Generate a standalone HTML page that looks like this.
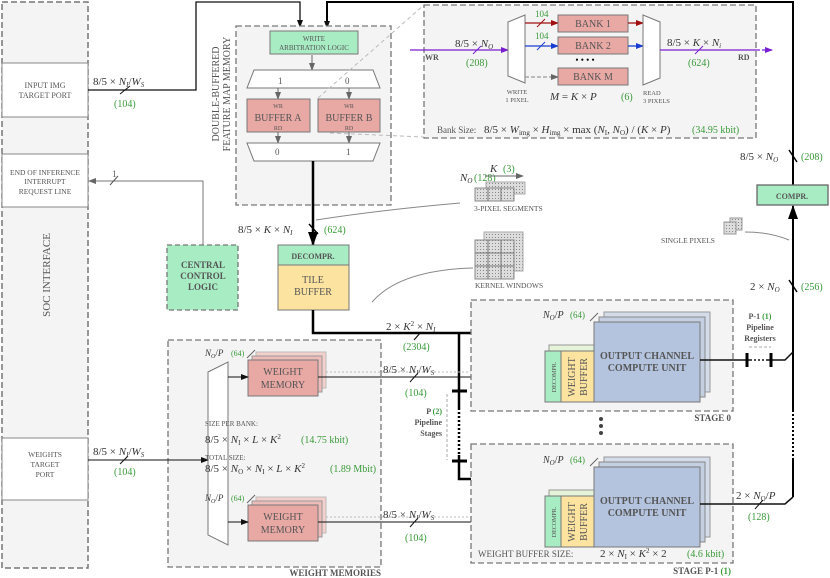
<!DOCTYPE html>
<html><head><meta charset="utf-8"><style>
body{margin:0;background:#fff}
svg{display:block;font-family:"Liberation Serif",serif}
.g{fill:#3a9a3a}
.t{fill:#555}
</style></head><body>
<svg width="830" height="578" viewBox="0 0 830 578" xmlns="http://www.w3.org/2000/svg">
<defs>
<marker id="a" markerWidth="8" markerHeight="8" refX="7" refY="4" orient="auto" markerUnits="userSpaceOnUse"><path d="M0,1 L8,4 L0,7z" fill="#111"/></marker>
<marker id="ag" markerWidth="8" markerHeight="8" refX="7" refY="4" orient="auto" markerUnits="userSpaceOnUse"><path d="M0,1 L8,4 L0,7z" fill="#666"/></marker>
<marker id="ab" markerWidth="14" markerHeight="12" refX="13" refY="6" orient="auto" markerUnits="userSpaceOnUse"><path d="M0,1 L14,6 L0,11z" fill="#000"/></marker>
<marker id="ap" markerWidth="8" markerHeight="8" refX="7" refY="4" orient="auto" markerUnits="userSpaceOnUse"><path d="M0,1 L8,4 L0,7z" fill="#7a1fd0"/></marker>
<marker id="ar" markerWidth="8" markerHeight="8" refX="7" refY="4" orient="auto" markerUnits="userSpaceOnUse"><path d="M0,1 L8,4 L0,7z" fill="#a01010"/></marker>
<marker id="abl" markerWidth="8" markerHeight="8" refX="7" refY="4" orient="auto" markerUnits="userSpaceOnUse"><path d="M0,1 L8,4 L0,7z" fill="#1a3fd0"/></marker>
<pattern id="px" width="3" height="3" patternUnits="userSpaceOnUse"><rect width="3" height="3" fill="#ddd"/><rect width="1" height="1" fill="#888"/></pattern>
</defs>

<!-- SOC interface -->
<rect x="2" y="2" width="86" height="566" fill="#f4f4f4" stroke="#777" stroke-width="1.5" stroke-dasharray="6,3"/>
<rect x="2" y="63" width="86" height="54" fill="#fff" stroke="#888"/>
<text x="45" y="88" font-size="8" text-anchor="middle" class="t">INPUT IMG</text>
<text x="45" y="98" font-size="8" text-anchor="middle" class="t">TARGET PORT</text>
<rect x="2" y="154" width="86" height="53" fill="#fff" stroke="#888"/>
<text x="45" y="175" font-size="7.5" text-anchor="middle" class="t">END OF INFERENCE</text>
<text x="45" y="184" font-size="7.5" text-anchor="middle" class="t">INTERRUPT</text>
<text x="45" y="194" font-size="7.5" text-anchor="middle" class="t">REQUEST LINE</text>
<rect x="2" y="438" width="86" height="62" fill="#fff" stroke="#888"/>
<text x="45" y="457" font-size="7.5" text-anchor="middle" class="t">WEIGHTS</text>
<text x="45" y="467" font-size="7.5" text-anchor="middle" class="t">TARGET</text>
<text x="45" y="477" font-size="7.5" text-anchor="middle" class="t">PORT</text>
<text transform="translate(50,275) rotate(-90)" font-size="11" text-anchor="middle" class="t">SOC INTERFACE</text>

<!-- input line -->
<polyline points="88,90 196,90 196,2 300,2 300,27" fill="none" stroke="#111" stroke-width="1.3" marker-end="url(#a)"/>
<line x1="120" y1="94" x2="130" y2="86" stroke="#111"/>
<text x="93" y="85" font-size="11" fill="#333">8/5 × <tspan font-style="italic">N<tspan font-size="7" dy="2">I</tspan></tspan><tspan dy="-2">/</tspan><tspan font-style="italic">W<tspan font-size="7" dy="2">S</tspan></tspan></text>
<text x="114" y="107" font-size="10" class="g">(104)</text>

<!-- top thick line -->
<polyline points="327,27 327,2 793,2 793,185" fill="none" stroke="#000" stroke-width="2" />
<line x1="327" y1="5" x2="327" y2="28" stroke="#000" stroke-width="2" marker-end="url(#a)"/>

<!-- Feature map memory -->
<rect x="236" y="26" width="155" height="179" fill="#f4f4f4" stroke="#777" stroke-width="1.3" stroke-dasharray="6,3"/>
<text transform="translate(219,94) rotate(-90)" font-size="10" text-anchor="middle" class="t">DOUBLE-BUFFERED</text>
<text transform="translate(230,94) rotate(-90)" font-size="10" text-anchor="middle" class="t">FEATURE MAP MEMORY</text>
<rect x="270" y="31" width="88" height="23" fill="#a8ecc4" stroke="#777"/>
<text x="314" y="41" font-size="7" text-anchor="middle" class="t">WRITE</text>
<text x="314" y="50" font-size="7" text-anchor="middle" class="t">ARBITRATION LOGIC</text>
<line x1="312" y1="55" x2="312" y2="70" stroke="#666" marker-end="url(#ag)"/>
<polygon points="254,70 373,70 380,88 247,88" fill="#fff" stroke="#777"/>
<text x="278" y="84" font-size="9" class="t">1</text><text x="345" y="84" font-size="9" class="t">0</text>
<line x1="278" y1="88" x2="278" y2="99" stroke="#666" marker-end="url(#ag)"/>
<line x1="349" y1="88" x2="349" y2="99" stroke="#666" marker-end="url(#ag)"/>
<rect x="247" y="99" width="63" height="33" fill="#e8a8a4" stroke="#777"/>
<rect x="318" y="99" width="62" height="33" fill="#e8a8a4" stroke="#777"/>
<text x="278" y="108" font-size="6" text-anchor="middle" class="t">WR</text>
<text x="278" y="121" font-size="10" text-anchor="middle" class="t">BUFFER A</text>
<text x="278" y="130" font-size="6" text-anchor="middle" class="t">RD</text>
<text x="349" y="108" font-size="6" text-anchor="middle" class="t">WR</text>
<text x="349" y="121" font-size="10" text-anchor="middle" class="t">BUFFER B</text>
<text x="349" y="130" font-size="6" text-anchor="middle" class="t">RD</text>
<line x1="278" y1="132" x2="278" y2="143" stroke="#666" marker-end="url(#ag)"/>
<line x1="349" y1="132" x2="349" y2="143" stroke="#666" marker-end="url(#ag)"/>
<polygon points="247,143 380,143 373,161 254,161" fill="#fff" stroke="#777"/>
<text x="275" y="155" font-size="9" class="t">0</text><text x="346" y="155" font-size="9" class="t">1</text>
<line x1="318" y1="98" x2="424" y2="5" stroke="#bbb" stroke-dasharray="4,3"/>
<line x1="330" y1="133" x2="424" y2="137" stroke="#bbb" stroke-dasharray="4,3"/>

<!-- thick down to decompr -->
<line x1="313" y1="161" x2="313" y2="245" stroke="#000" stroke-width="2.5" marker-end="url(#ab)"/>
<line x1="309" y1="224" x2="318" y2="234" stroke="#000" stroke-width="1.5"/>
<text x="238" y="233" font-size="11" fill="#333">8/5 × <tspan font-style="italic">K</tspan> × <tspan font-style="italic">N<tspan font-size="7" dy="2">I</tspan></tspan></text>
<text x="324" y="233" font-size="10" class="g">(624)</text>
<path d="M316,220 Q380,210 460,203" fill="none" stroke="#888"/>

<rect x="278" y="245" width="71" height="20" fill="#a8ecc4" stroke="#777"/>
<text x="313" y="259" font-size="8" font-weight="bold" text-anchor="middle" class="t">DECOMPR.</text>
<rect x="278" y="265" width="71" height="45" fill="#fce3a0" stroke="#777"/>
<text x="313" y="283" font-size="10" text-anchor="middle" class="t">TILE</text>
<text x="313" y="295" font-size="10" text-anchor="middle" class="t">BUFFER</text>

<!-- central control -->
<rect x="167" y="245" width="71" height="65" fill="#a8ecc4" stroke="#777" stroke-width="1.3" stroke-dasharray="5,3"/>
<text x="203" y="268" font-size="9" font-weight="bold" text-anchor="middle" class="t">CENTRAL</text>
<text x="203" y="279" font-size="9" font-weight="bold" text-anchor="middle" class="t">CONTROL</text>
<text x="203" y="290" font-size="9" font-weight="bold" text-anchor="middle" class="t">LOGIC</text>
<polyline points="203,245 203,181 89,181" fill="none" stroke="#777" marker-end="url(#ag)"/>
<line x1="110" y1="185" x2="118" y2="176" stroke="#555"/>
<text x="112" y="177" font-size="9" class="t">1</text>

<!-- bank inset -->
<rect x="424" y="5" width="332" height="133" fill="#f4f4f4" stroke="#777" stroke-width="1.3" stroke-dasharray="6,3"/>
<line x1="410" y1="50" x2="508" y2="50" stroke="#7a1fd0" stroke-width="1.3" marker-end="url(#ap)"/>
<text x="425" y="60" font-size="8" font-weight="bold" class="t">WR</text>
<text x="455" y="47" font-size="11" fill="#333">8/5 × <tspan font-style="italic">N<tspan font-size="7" dy="2">O</tspan></tspan></text>
<line x1="473" y1="54" x2="481" y2="46" stroke="#7a1fd0"/>
<text x="466" y="66" font-size="10" class="g">(208)</text>
<polygon points="508,22 525,15 525,83 508,76" fill="#fff" stroke="#777"/>
<text x="517" y="94" font-size="6.5" text-anchor="middle" class="t">WRITE</text>
<text x="517" y="102" font-size="6.5" text-anchor="middle" class="t">1 PIXEL</text>
<line x1="525" y1="23" x2="558" y2="23" stroke="#a01010" stroke-width="1.3" marker-end="url(#ar)"/>
<line x1="537" y1="27" x2="545" y2="19" stroke="#a01010"/>
<text x="535" y="17" font-size="9" class="g">104</text>
<line x1="525" y1="46" x2="558" y2="46" stroke="#1a3fd0" stroke-width="1.3" marker-end="url(#abl)"/>
<line x1="537" y1="50" x2="545" y2="42" stroke="#1a3fd0"/>
<text x="535" y="39" font-size="9" class="g">104</text>
<line x1="525" y1="77" x2="558" y2="77" stroke="#999" stroke-width="1.3" stroke-dasharray="4,2" marker-end="url(#ag)"/>
<g font-size="10" class="t">
<rect x="558" y="15" width="70" height="17" fill="#e8a8a4" stroke="#777"/><text x="593" y="27" text-anchor="middle">BANK 1</text>
<rect x="558" y="37" width="70" height="17" fill="#e8a8a4" stroke="#777"/><text x="593" y="49" text-anchor="middle">BANK 2</text>
<rect x="558" y="68" width="70" height="17" fill="#e8a8a4" stroke="#777"/><text x="593" y="80" text-anchor="middle">BANK M</text>
</g>
<text x="585" y="63" font-size="9" text-anchor="middle">• • • •</text>
<text x="550" y="100" font-size="11" fill="#333" font-style="italic">M <tspan font-style="normal">=</tspan> K <tspan font-style="normal">×</tspan> P</text>
<text x="621" y="100" font-size="10" class="g">(6)</text>
<line x1="628" y1="23" x2="643" y2="23" stroke="#a01010" stroke-width="1.3" marker-end="url(#ar)"/>
<line x1="628" y1="46" x2="643" y2="46" stroke="#1a3fd0" stroke-width="1.3" marker-end="url(#abl)"/>
<polygon points="643,15 660,22 660,78 643,85" fill="#fff" stroke="#777"/>
<text x="643" y="95" font-size="6.5" class="t">READ</text>
<text x="643" y="103" font-size="6.5" class="t">3 PIXELS</text>
<line x1="660" y1="50" x2="756" y2="50" stroke="#7a1fd0" stroke-width="1.3"/>
<line x1="756" y1="50" x2="772" y2="50" stroke="#7a1fd0" stroke-width="1.3" stroke-dasharray="4,2" marker-end="url(#ap)"/>
<text x="667" y="46" font-size="11" fill="#333">8/5 × <tspan font-style="italic">K</tspan> × <tspan font-style="italic">N<tspan font-size="7" dy="2">i</tspan></tspan></text>
<line x1="695" y1="54" x2="703" y2="46" stroke="#7a1fd0"/>
<text x="688" y="66" font-size="10" class="g">(624)</text>
<text x="738" y="60" font-size="8" font-weight="bold" class="t">RD</text>
<text x="437" y="133" font-size="9" class="t">Bank Size:</text>
<text x="484" y="133" font-size="11" fill="#333">8/5 × <tspan font-style="italic">W</tspan><tspan font-size="7" dy="2">img</tspan><tspan dy="-2"> × </tspan><tspan font-style="italic">H</tspan><tspan font-size="7" dy="2">img</tspan><tspan dy="-2"> × max (</tspan><tspan font-style="italic">N</tspan><tspan font-size="7" dy="2">I</tspan><tspan dy="-2">, </tspan><tspan font-style="italic">N</tspan><tspan font-size="7" dy="2">O</tspan><tspan dy="-2">) / (</tspan><tspan font-style="italic">K</tspan> × <tspan font-style="italic">P</tspan>)</text>
<text x="692" y="133" font-size="10" class="g">(34.95 kbit)</text>

<!-- right side -->
<text x="740" y="160" font-size="11" fill="#333">8/5 × <tspan font-style="italic">N<tspan font-size="7" dy="2">O</tspan></tspan></text>
<line x1="789" y1="150" x2="797" y2="162" stroke="#000" stroke-width="1.5"/>
<text x="801" y="160" font-size="10" class="g">(208)</text>
<rect x="757" y="185" width="71" height="20" fill="#a8ecc4" stroke="#666" stroke-width="1.3"/>
<text x="792" y="199" font-size="8" font-weight="bold" text-anchor="middle" class="t">COMPR.</text>
<line x1="793" y1="410" x2="793" y2="206" stroke="#000" stroke-width="2" marker-end="url(#ab)"/>
<line x1="793" y1="410" x2="793" y2="460" stroke="#000" stroke-width="2" stroke-dasharray="2,2"/>
<line x1="793" y1="460" x2="793" y2="497" stroke="#000" stroke-width="2"/>
<text x="750" y="290" font-size="11" fill="#333">2 × <tspan font-style="italic">N<tspan font-size="7" dy="2">O</tspan></tspan></text>
<line x1="789" y1="280" x2="797" y2="292" stroke="#000" stroke-width="1.5"/>
<text x="801" y="290" font-size="10" class="g">(256)</text>
<path d="M745,232 Q770,232 789,240" fill="none" stroke="#888"/>
<rect x="730" y="218" width="12" height="12" fill="url(#px)" stroke="#999"/>
<rect x="724" y="222" width="12" height="12" fill="url(#px)" stroke="#999"/>
<text x="661" y="243" font-size="7.5" class="t">SINGLE PIXELS</text>

<!-- 3-pixel segments -->
<text x="460" y="181" font-size="11" font-style="italic" fill="#333">N<tspan font-size="7" dy="2">O</tspan></text>
<text x="474" y="181" font-size="10" class="g">(128)</text>
<text x="490" y="172" font-size="11" font-style="italic" fill="#333">K</text><text x="503" y="172" font-size="10" class="g">(3)</text>
<line x1="485" y1="176" x2="523" y2="176" stroke="#666" marker-end="url(#ag)"/>
<rect x="486" y="182" width="39" height="12" fill="url(#px)" stroke="#aaa"/>
<rect x="475" y="188" width="39" height="13" fill="url(#px)" stroke="#888"/>
<line x1="488" y1="188" x2="488" y2="201" stroke="#777"/><line x1="501" y1="188" x2="501" y2="201" stroke="#777"/>
<text x="474" y="211" font-size="7.5" class="t">3-PIXEL SEGMENTS</text>
<rect x="484" y="232" width="39" height="39" fill="url(#px)" stroke="#aaa"/>
<rect x="475" y="240" width="39" height="39" fill="url(#px)" stroke="#888"/>
<path d="M488,240V279M501,240V279M475,253H514M475,266H514" stroke="#777"/>
<text x="475" y="288" font-size="7.5" class="t">KERNEL WINDOWS</text>
<path d="M372,302 Q400,270 473,268" fill="none" stroke="#888"/>

<!-- thick tile buffer line -->
<polyline points="313,310 313,333 594,333" fill="none" stroke="#000" stroke-width="2.5" marker-end="url(#ab)"/>
<polyline points="459,333 459,408" fill="none" stroke="#000" stroke-width="2.5"/>
<line x1="459" y1="408" x2="459" y2="455" stroke="#000" stroke-width="2.5" stroke-dasharray="2,2"/>
<polyline points="459,455 459,479 594,479" fill="none" stroke="#000" stroke-width="2.5" marker-end="url(#ab)"/>
<line x1="452" y1="391" x2="467" y2="391" stroke="#000" stroke-width="3"/>
<line x1="452" y1="461" x2="467" y2="461" stroke="#000" stroke-width="3"/>
<line x1="447" y1="394" x2="447" y2="460" stroke="#aaa" stroke-dasharray="3,2"/>
<text x="386" y="330" font-size="11" fill="#333">2 × <tspan font-style="italic">K</tspan><tspan font-size="7" dy="-4">2</tspan><tspan dy="4"> × </tspan><tspan font-style="italic">N<tspan font-size="7" dy="2">I</tspan></tspan></text>
<line x1="414" y1="340" x2="421" y2="332" stroke="#000"/>
<text x="403" y="350" font-size="10" class="g">(2304)</text>
<text x="442" y="414" font-size="8" font-weight="bold" text-anchor="end" class="t">P <tspan class="g">(2)</tspan></text>
<text x="442" y="425" font-size="8" font-weight="bold" text-anchor="end" class="t">Pipeline</text>
<text x="442" y="436" font-size="8" font-weight="bold" text-anchor="end" class="t">Stages</text>

<!-- weight memories -->
<rect x="168" y="340" width="213" height="227" fill="#f4f4f4" stroke="#777" stroke-width="1.3" stroke-dasharray="6,3"/>
<text x="381" y="576" font-size="9" font-weight="bold" text-anchor="end" class="t">WEIGHT MEMORIES</text>
<polygon points="208,372 228,362 228,545 208,535" fill="#fff" stroke="#777"/>
<line x1="88" y1="460" x2="208" y2="460" stroke="#111" marker-end="url(#a)"/>
<line x1="120" y1="464" x2="128" y2="456" stroke="#111"/>
<text x="93" y="455" font-size="11" fill="#333">8/5 × <tspan font-style="italic">N<tspan font-size="7" dy="2">I</tspan></tspan><tspan dy="-2">/</tspan><tspan font-style="italic">W<tspan font-size="7" dy="2">S</tspan></tspan></text>
<text x="114" y="475" font-size="10" class="g">(104)</text>
<g id="wm">
<rect x="256" y="352" width="70" height="36" fill="#f3d0cc" stroke="#bbb"/>
<rect x="252" y="356" width="70" height="36" fill="#eebcb8" stroke="#999"/>
<rect x="248" y="360" width="70" height="36" fill="#e8a8a4" stroke="#777"/>
<text x="283" y="375" font-size="10" text-anchor="middle" class="t">WEIGHT</text>
<text x="283" y="388" font-size="10" text-anchor="middle" class="t">MEMORY</text>
<line x1="228" y1="377" x2="248" y2="377" stroke="#111" marker-end="url(#a)"/>
<line x1="326" y1="372" x2="545" y2="372" stroke="#bbb" stroke-dasharray="2,2"/>
<line x1="318" y1="377" x2="545" y2="377" stroke="#111" marker-end="url(#a)"/>
<line x1="410" y1="382" x2="418" y2="373" stroke="#111"/>
<text x="383" y="373" font-size="11" fill="#333">8/5 × <tspan font-style="italic">N<tspan font-size="7" dy="2">I</tspan></tspan><tspan dy="-2">/</tspan><tspan font-style="italic">W<tspan font-size="7" dy="2">S</tspan></tspan></text>
<text x="405" y="396" font-size="10" class="g">(104)</text>
<text x="205" y="356" font-size="9" font-style="italic" fill="#333">N<tspan font-size="6" dy="2">O</tspan><tspan dy="-2" font-style="normal">/</tspan>P</text>
<text x="231" y="356" font-size="8" class="g">(64)</text>
<line x1="247" y1="358" x2="255" y2="350" stroke="#666"/>
</g>
<use href="#wm" transform="translate(0,145)"/>
<text x="205" y="426" font-size="7" class="t">SIZE PER BANK:</text>
<text x="205" y="443" font-size="11" fill="#333">8/5 × <tspan font-style="italic">N</tspan><tspan font-size="7" dy="2">I</tspan><tspan dy="-2"> × </tspan><tspan font-style="italic">L</tspan> × <tspan font-style="italic">K</tspan><tspan font-size="7" dy="-4">2</tspan></text>
<text x="301" y="443" font-size="10" class="g">(14.75 kbit)</text>
<text x="205" y="460" font-size="7" class="t">TOTAL SIZE:</text>
<text x="205" y="472" font-size="11" fill="#333">8/5 × <tspan font-style="italic">N</tspan><tspan font-size="7" dy="2">O</tspan><tspan dy="-2"> × </tspan><tspan font-style="italic">N</tspan><tspan font-size="7" dy="2">I</tspan><tspan dy="-2"> × </tspan><tspan font-style="italic">L</tspan> × <tspan font-style="italic">K</tspan><tspan font-size="7" dy="-4">2</tspan></text>
<text x="330" y="472" font-size="10" class="g">(1.89 Mbit)</text>

<!-- stages -->
<rect x="471" y="300" width="262" height="111" fill="#f4f4f4" stroke="#777" stroke-width="1.3" stroke-dasharray="6,3"/>
<text x="731" y="421" font-size="9" font-weight="bold" text-anchor="end" class="t">STAGE 0</text>
<rect x="471" y="444" width="262" height="119" fill="#f4f4f4" stroke="#777" stroke-width="1.3" stroke-dasharray="6,3"/>
<text x="731" y="574" font-size="9" font-weight="bold" text-anchor="end" class="t">STAGE P-1 <tspan class="g">(1)</tspan></text>
<text x="478" y="557" font-size="9" class="t">WEIGHT BUFFER SIZE:</text>
<text x="600" y="557" font-size="11" fill="#333">2 × <tspan font-style="italic">N</tspan><tspan font-size="7" dy="2">I</tspan><tspan dy="-2"> × </tspan><tspan font-style="italic">K</tspan><tspan font-size="7" dy="-4">2</tspan><tspan dy="4"> × 2</tspan></text>
<text x="687" y="557" font-size="10" class="g">(4.6 kbit)</text>
<circle cx="601" cy="419" r="2" fill="#444"/><circle cx="601" cy="426" r="2" fill="#444"/><circle cx="601" cy="433" r="2" fill="#444"/>

<g id="cu">
<rect x="604" y="312" width="106" height="80" fill="#d4dcea" stroke="#999"/>
<rect x="599" y="317" width="106" height="80" fill="#c4d0e2" stroke="#888"/>
<rect x="549" y="345" width="45" height="6" fill="#e5f4d8" stroke="#999"/>
<rect x="545" y="351" width="16" height="51" fill="#a8ecc4" stroke="#777"/>
<rect x="561" y="351" width="33" height="51" fill="#fce3a0" stroke="#777"/>
<text transform="translate(556,377) rotate(-90)" font-size="6" text-anchor="middle" class="t">DECOMPR.</text>
<text transform="translate(575,377) rotate(-90)" font-size="10" text-anchor="middle" class="t">WEIGHT</text>
<text transform="translate(587,377) rotate(-90)" font-size="10" text-anchor="middle" class="t">BUFFER</text>
<rect x="594" y="322" width="106" height="80" fill="#b4c4de" stroke="#777"/>
<text x="647" y="359" font-size="10" font-weight="bold" text-anchor="middle" class="t">OUTPUT CHANNEL</text>
<text x="647" y="371" font-size="10" font-weight="bold" text-anchor="middle" class="t">COMPUTE UNIT</text>
<text x="543" y="318" font-size="10" font-style="italic" fill="#333">N<tspan font-size="7" dy="2">O</tspan><tspan dy="-2" font-style="normal">/</tspan>P</text>
<text x="570" y="318" font-size="9" class="g">(64)</text>
<line x1="590" y1="321" x2="598" y2="313" stroke="#666"/>
</g>
<use href="#cu" transform="translate(0,145)"/>

<!-- outputs -->
<polyline points="700,360 785,360 793,352" fill="none" stroke="#111" stroke-width="1.5"/>
<line x1="747" y1="353" x2="747" y2="367" stroke="#000" stroke-width="3"/>
<line x1="771" y1="353" x2="771" y2="367" stroke="#000" stroke-width="3"/>
<line x1="752" y1="360" x2="766" y2="360" stroke="#fff" stroke-width="2" stroke-dasharray="2,2"/>
<text x="760" y="319" font-size="8" font-weight="bold" text-anchor="middle" class="t">P-1 <tspan class="g">(1)</tspan></text>
<text x="760" y="330" font-size="8" font-weight="bold" text-anchor="middle" class="t">Pipeline</text>
<text x="760" y="341" font-size="8" font-weight="bold" text-anchor="middle" class="t">Registers</text>
<line x1="749" y1="347" x2="771" y2="347" stroke="#aaa" stroke-dasharray="3,2"/>
<polyline points="700,504 785,504 793,497" fill="none" stroke="#111" stroke-width="1.5"/>
<text x="736" y="499" font-size="11" fill="#333">2 × <tspan font-style="italic">N</tspan><tspan font-size="7" dy="2">O</tspan><tspan dy="-2">/</tspan><tspan font-style="italic">P</tspan></text>
<line x1="755" y1="509" x2="763" y2="500" stroke="#111"/>
<text x="748" y="520" font-size="10" class="g">(128)</text>
</svg>
</body></html>
